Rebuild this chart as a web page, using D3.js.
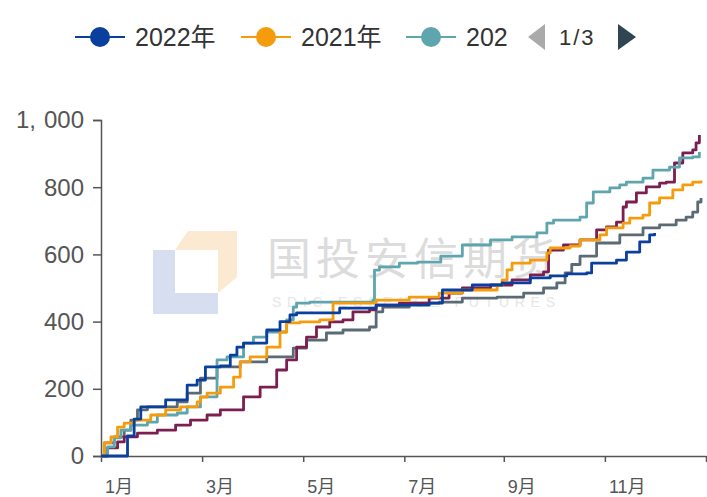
<!DOCTYPE html>
<html>
<head>
<meta charset="utf-8">
<script src="https://cdn.jsdelivr.net/npm/d3@7"></script>
<style>
  body { margin: 0; background: #fff; }
  svg { display: block; font-family: "Liberation Sans", "Noto Sans CJK SC", sans-serif; }
</style>
</head>
<body>
<div id="chart"></div>
<script>
// series values: [day of year, cumulative value]
var s2022 = [[0,0],[12,0],[16,60],[20,110],[24,146],[39,167],[52,211],[58,226],[63,265],[66,265],[72,268],[78,300],[82,324],[86,336],[100,375],[108,400],[114,420],[118,426],[132,426],[144,440],[166,449],[198,455],[206,494],[224,509],[242,515],[259,530],[271,536],[281,542],[293,545],[296,574],[311,583],[317,607],[325,637],[331,658],[334,664]];
var s2021 = [[0,0],[2,39],[6,57],[10,86],[14,98],[20,107],[30,122],[39,137],[48,146],[58,161],[60,175],[64,187],[72,205],[80,235],[84,280],[90,295],[100,324],[108,369],[112,396],[120,399],[132,405],[140,455],[166,464],[186,473],[204,485],[218,494],[239,509],[242,524],[245,554],[248,574],[259,583],[269,604],[271,619],[283,625],[289,643],[301,658],[305,679],[315,693],[319,708],[327,717],[331,753],[337,768],[345,792],[351,807],[357,815],[362,820]];
var s2020 = [[0,0],[4,27],[8,54],[12,77],[18,92],[28,101],[34,122],[46,128],[52,146],[60,176],[69,176],[70,286],[76,295],[86,336],[92,354],[100,369],[112,405],[116,443],[118,455],[126,458],[164,464],[165,553],[168,563],[180,574],[191,577],[205,595],[218,628],[235,643],[248,652],[263,664],[269,693],[273,702],[289,711],[293,753],[297,786],[307,798],[313,807],[317,815],[327,827],[333,851],[343,860],[349,887],[357,890],[361,905]];
var s2019 = [[0,0],[4,24],[10,42],[14,57],[22,68],[34,77],[45,92],[54,107],[64,122],[72,137],[86,176],[96,205],[106,256],[112,286],[118,324],[124,354],[130,384],[138,399],[146,405],[152,429],[162,435],[166,449],[180,455],[198,470],[210,485],[218,500],[235,509],[248,524],[259,539],[267,548],[270,613],[279,628],[289,643],[299,673],[305,682],[311,696],[315,741],[317,756],[323,783],[329,801],[337,812],[341,815],[346,872],[351,902],[357,911],[359,932],[361,955]];
var s2018 = [[0,0],[2,39],[8,57],[14,77],[18,107],[22,137],[28,146],[39,146],[46,161],[52,187],[60,232],[70,265],[84,280],[100,295],[116,321],[124,345],[136,366],[146,375],[162,384],[166,429],[170,443],[186,455],[204,458],[218,470],[239,473],[255,485],[267,500],[275,515],[280,545],[284,570],[289,595],[299,634],[313,658],[327,679],[337,688],[347,702],[353,711],[357,726],[360,756],[362,768]];

var seriesNames = ["2022年", "2021年", "2020年", "2019年", "2018年"];
var seriesColors = ["#0b3f9e", "#f59c0c", "#5ea5ad", "#7b1f50", "#5b6b75"];
var seriesData = [s2022, s2021, s2020, s2019, s2018];

var xTickDays = [0, 61, 122, 183, 243, 304, 365];
var xTickLabels = ["1月", "3月", "5月", "7月", "9月", "11月"];
var yTicks = [0, 200, 400, 600, 800, 1000];

var width = 707, height = 497;
var margin = {top: 120, right: 1, bottom: 40, left: 101};

var svg = d3.select("#chart").append("svg")
    .attr("width", width)
    .attr("height", height);

var x = d3.scaleLinear().domain([0, 365]).range([margin.left, width - margin.right]);
var y = d3.scaleLinear().domain([0, 1000]).range([height - margin.bottom - 1, margin.top]);

// watermark
var wm = svg.append("g").attr("class", "watermark");
wm.append("polygon")
    .attr("points", "153,250 175,250 175,293 218,293 218,314 153,314")
    .attr("fill", "#d6deef");
wm.append("polygon")
    .attr("points", "188,231 237,231 237,277 218,293 218,250 175,250")
    .attr("fill", "#fbe9d1");
wm.append("text")
    .attr("x", 267).attr("y", 275)
    .attr("font-size", 44)
    .attr("letter-spacing", 5)
    .attr("fill", "#dcdcdc")
    .style("font-family", "'Noto Sans CJK SC', sans-serif")
    .text("国投安信期货");
wm.append("text")
    .attr("x", 272).attr("y", 307)
    .attr("font-size", 14)
    .attr("textLength", 283)
    .attr("fill", "#e6e6e6")
    .text("SDIC ESSENCE FUTURES");

// axes
var yAxis = svg.append("g")
    .attr("transform", "translate(" + margin.left + ",0)")
    .call(d3.axisLeft(y).tickValues(yTicks).tickFormat("").tickSize(8));
yAxis.select(".domain").attr("stroke", "#555").attr("stroke-width", 1.5);
yAxis.selectAll(".tick line").attr("stroke", "#555").attr("stroke-width", 1.5);

var yLabels = svg.append("g").selectAll("text")
    .data(yTicks)
    .enter().append("text")
    .attr("x", 84)
    .attr("y", function(d) { return y(d); })
    .attr("dy", "0.35em")
    .attr("text-anchor", "end")
    .attr("font-size", 24)
    .attr("fill", "#555");
yLabels.each(function(d) {
    var parts = d3.format(",")(d).split(",");
    var t = d3.select(this);
    if (parts.length > 1) {
        t.append("tspan").text(parts[0] + ",");
        t.append("tspan").attr("dx", 8).text(parts[1]);
    } else {
        t.text(parts[0]);
    }
});

var xAxis = svg.append("g")
    .attr("transform", "translate(0," + y(0) + ")")
    .call(d3.axisBottom(x).tickValues(xTickDays).tickFormat("").tickSize(6).tickSizeOuter(0));
xAxis.select(".domain").attr("stroke", "#555").attr("stroke-width", 1.5);
xAxis.selectAll(".tick line").attr("stroke", "#555").attr("stroke-width", 1.5);

svg.append("g").selectAll("text")
    .data(xTickLabels)
    .enter().append("text")
    .attr("x", function(d, i) { return x(xTickDays[i]) + 4; })
    .attr("y", 493)
    .attr("font-size", 18)
    .attr("fill", "#555")
    .text(function(d) { return d; });

// lines
var line = d3.line()
    .curve(d3.curveStepAfter)
    .x(function(d) { return x(d[0]); })
    .y(function(d) { return y(d[1]); });

var order = [4, 3, 2, 1, 0];
svg.append("g").selectAll("path")
    .data(order)
    .enter().append("path")
    .attr("d", function(i) { return line(seriesData[i]); })
    .attr("fill", "none")
    .attr("stroke", function(i) { return seriesColors[i]; })
    .attr("stroke-width", 2.8)
    .attr("stroke-linejoin", "round");

// legend (paged, first page)
var legendX = [75, 241, 406];
var legendLabels = ["2022年", "2021年", "202"];
var legend = svg.append("g").selectAll("g")
    .data(legendLabels)
    .enter().append("g")
    .attr("transform", function(d, i) { return "translate(" + legendX[i] + ",37)"; });
legend.append("line")
    .attr("x1", 0).attr("x2", 50)
    .attr("stroke", function(d, i) { return seriesColors[i]; })
    .attr("stroke-width", 2);
legend.append("circle")
    .attr("cx", 25).attr("r", 10)
    .attr("fill", function(d, i) { return seriesColors[i]; });
legend.append("text")
    .attr("x", 60).attr("dy", "0.36em")
    .attr("font-size", 25)
    .attr("fill", "#333")
    .text(function(d) { return d; });

svg.append("path").attr("d", "M528,37 L545,24 L545,50 Z").attr("fill", "#aaa");
svg.append("text").attr("x", 559).attr("y", 37).attr("dy", "0.36em")
    .attr("font-size", 22).attr("letter-spacing", 2).attr("fill", "#333").text("1/3");
svg.append("path").attr("d", "M618,24 L636,37 L618,50 Z").attr("fill", "#2f4554");
</script>
</body>
</html>
